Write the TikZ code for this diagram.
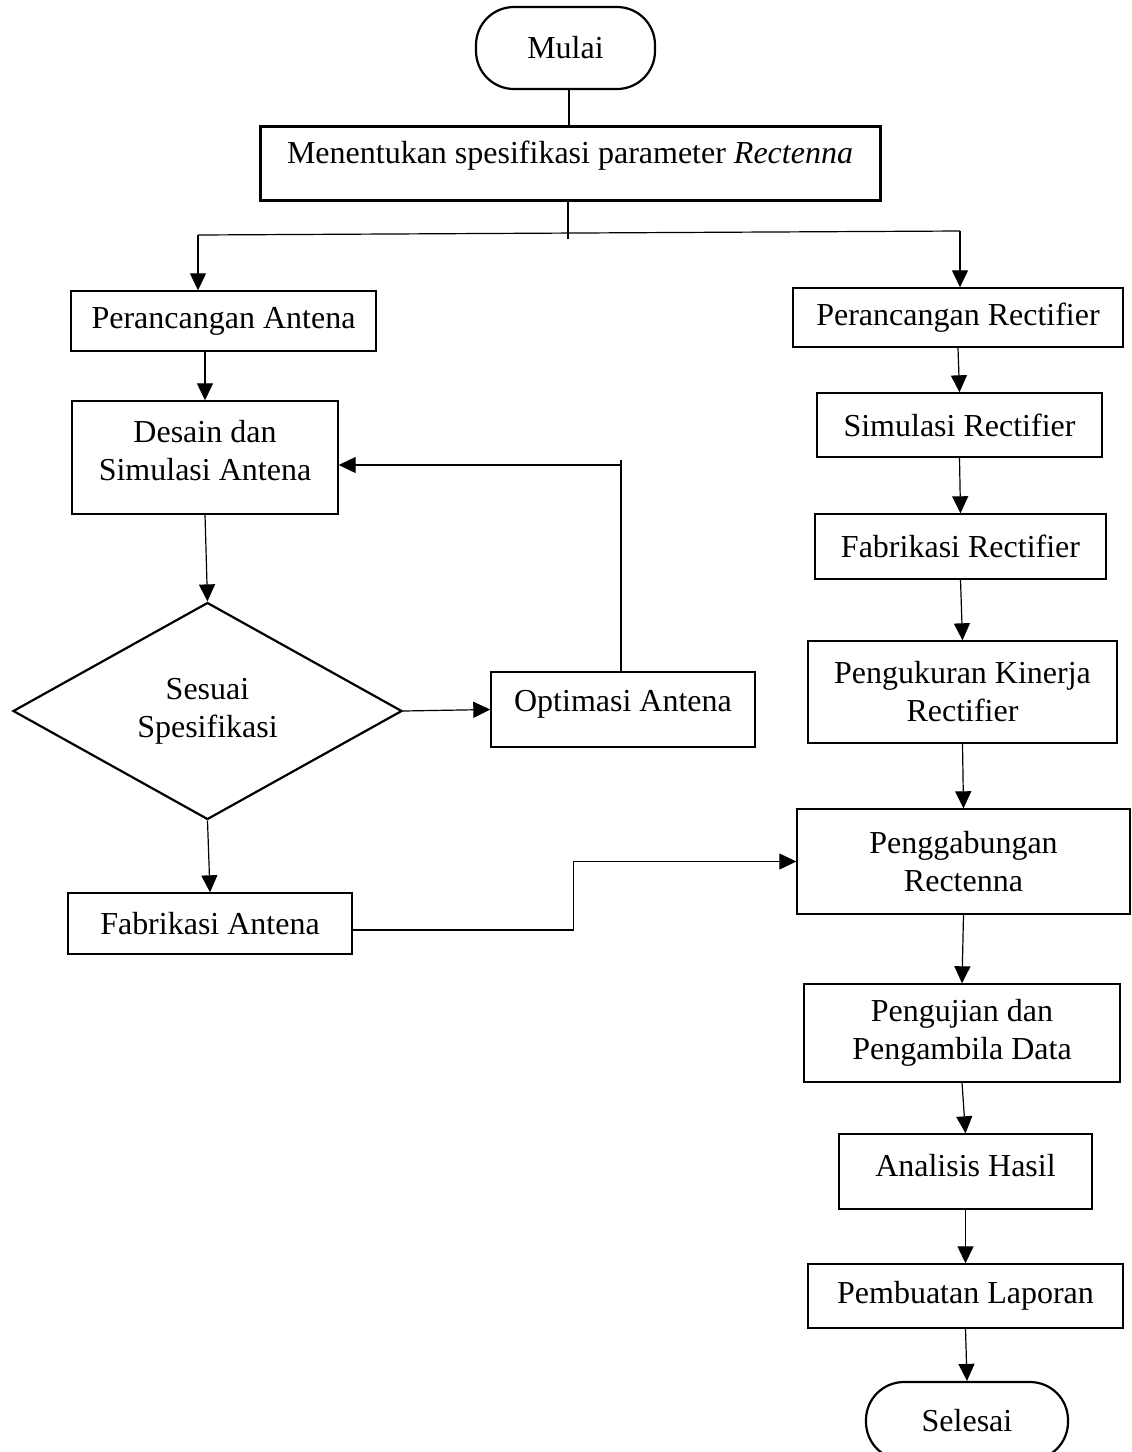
\documentclass[tikz,border=0pt]{standalone}
\usepackage{fontspec}
\setmainfont{Liberation Serif}
\usetikzlibrary{arrows.meta,shapes.geometric}
\begin{document}
\begin{tikzpicture}[x=0.5pt,y=-0.5pt,
  every node/.style={font=\fontsize{16}{19}\selectfont, inner sep=0pt, align=center},
  stepbox/.style={draw, rectangle, line width=0.7pt},
  termbox/.style={draw, rectangle, rounded corners=19pt, line width=1.1pt},
  decbox/.style={draw, diamond, line width=1.1pt},
  conn/.style={line width=0.6pt},
  arr/.style={line width=0.6pt, -{Triangle[length=8.5pt,width=8pt]}}]
\useasboundingbox (0,0) rectangle (1131,1452);
\clip (0,0) rectangle (1131,1452);

% nodes
\node[termbox, minimum width=89.5pt, minimum height=41pt] (mulai) at (565.5,48) {Mulai};
\node[stepbox, line width=1.5pt, minimum width=310pt, minimum height=37pt, text depth=10.5pt] (spec) at (570,163) {Menentukan spesifikasi parameter \textit{Rectenna}};

\node[stepbox, minimum width=152.5pt, minimum height=30pt] (pa) at (223.5,321) {Perancangan Antena};
\node[stepbox, minimum width=133pt, minimum height=56.5pt, text depth=7pt] (ds) at (205,457.5) {Desain dan\\Simulasi Antena};
\node[decbox, minimum width=194.5pt, minimum height=108.5pt] (dm) at (207.5,711) {Sesuai\\Spesifikasi};
\node[stepbox, minimum width=132pt, minimum height=37.5pt, text depth=8.5pt] (op) at (623,709.5) {Optimasi Antena};
\node[stepbox, minimum width=142pt, minimum height=30.5pt] (fa) at (210,923.5) {Fabrikasi Antena};

\node[stepbox, minimum width=165pt, minimum height=29.5pt] (pr) at (958,317.5) {Perancangan Rectifier};
\node[stepbox, minimum width=142.5pt, minimum height=32pt] (sr) at (959.5,425) {Simulasi Rectifier};
\node[stepbox, minimum width=145.5pt, minimum height=32.5pt] (fr) at (960.5,546.5) {Fabrikasi Rectifier};
\node[stepbox, minimum width=154.5pt, minimum height=51pt] (pk) at (962.5,692) {Pengukuran Kinerja\\Rectifier};
\node[stepbox, minimum width=166.5pt, minimum height=52.5pt] (pg) at (963.5,861.5) {Penggabungan\\Rectenna};
\node[stepbox, minimum width=158pt, minimum height=49pt] (pj) at (962,1033) {Pengujian dan\\Pengambila Data};
\node[stepbox, minimum width=126.5pt, minimum height=37.5pt, text depth=6pt] (ah) at (965.5,1171.5) {Analisis Hasil};
\node[stepbox, minimum width=157.5pt, minimum height=32pt] (pl) at (965.5,1296) {Pembuatan Laporan};
\node[termbox, minimum width=101pt, minimum height=39pt] (sel) at (967,1421) {Selesai};

% helper coordinates
\coordinate (j0) at (569,0);
\coordinate (jb) at (568,233);
\coordinate (jbe) at (568,239);
\coordinate (jl) at (198,235);
\coordinate (jr) at (960,231);
\coordinate (fb) at (621,465);
\coordinate (fbt) at (621,460);
\coordinate (s1) at (573.5,930);
\coordinate (s2) at (573.5,861.5);

% connectors
\draw[conn] (mulai.south -| j0) -- (spec.north -| j0);
\draw[conn] (spec.south -| jb) -- (jbe);
\draw[conn] (jl) -- (jr);
\draw[arr] (jl) -- (jl |- pa.north);
\draw[arr] (jr) -- (jr |- pr.north);

\draw[arr] (ds.north |- pa.south) -- (ds.north);
\draw[arr] (ds.south) -- (dm.north);
\draw[arr] (dm.east) -- (op.west);
\draw[conn] (op.north -| fbt) -- (fbt);
\draw[arr] (fb) -- (ds.east |- fb);
\draw[arr] (dm.south) -- (fa.north);
\draw[arr] (fa.east |- s1) -- (s1) -- (s2) -- (pg.west);

\draw[arr] (pr.south) -- (sr.north);
\draw[arr] (sr.south) -- (fr.north);
\draw[arr] (fr.south) -- (pk.north);
\draw[arr] (pk.south) -- (pg.north);
\draw[arr] (pg.south) -- (pj.north);
\draw[arr] (pj.south) -- (ah.north);
\draw[arr] (ah.south) -- (pl.north);
\draw[arr] (pl.south) -- (sel.north);
\end{tikzpicture}
\end{document}
